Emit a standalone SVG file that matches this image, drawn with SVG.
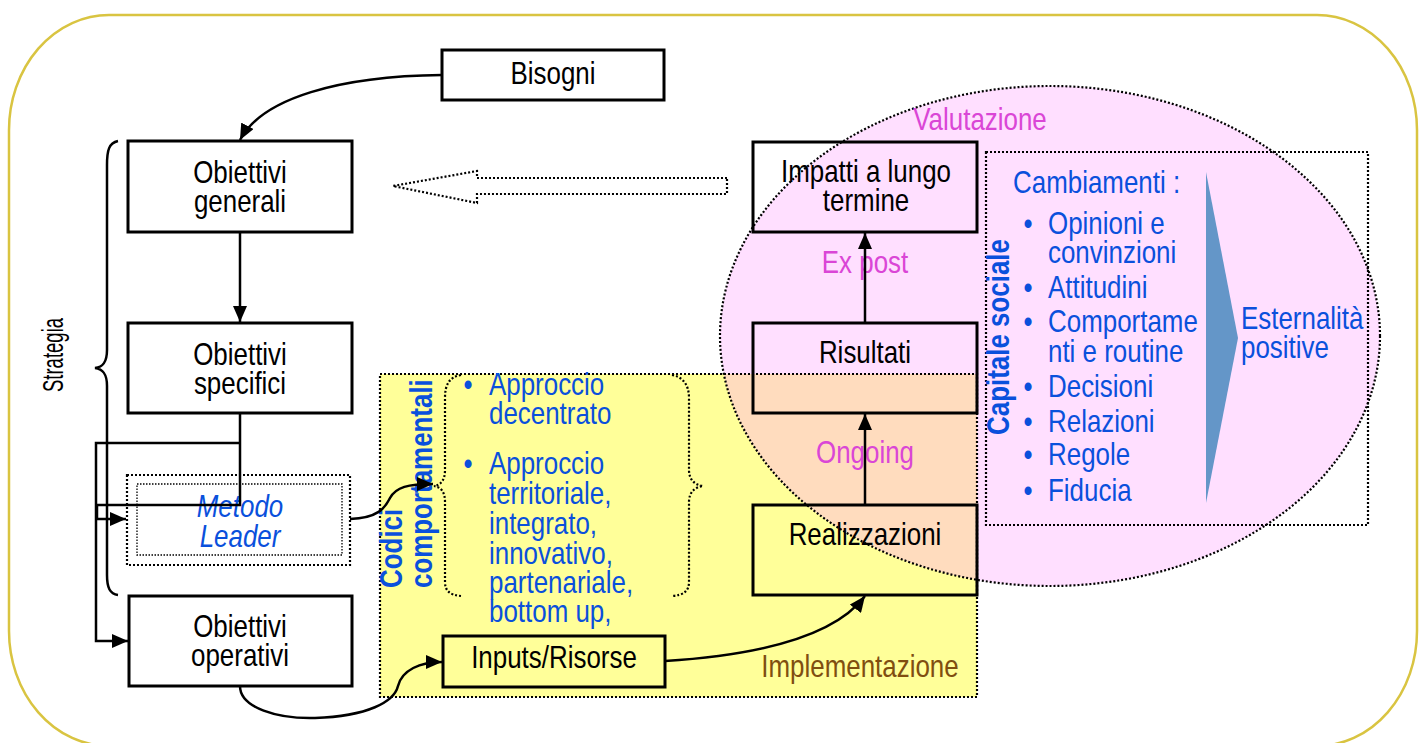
<svg xmlns="http://www.w3.org/2000/svg" width="1424" height="743" viewBox="0 0 1424 743">
<defs>
<style>
.t{font-family:"Liberation Sans",Arial,sans-serif;font-size:30.5px;fill:#000}
.m{text-anchor:middle}
.b{fill:#0A50DC}
.bb{fill:#0A50DC;font-weight:bold}
.mg{fill:#DA46D6}
.br{fill:#804E10}
.box{fill:none;stroke:#000;stroke-width:3}
.wbox{fill:#fff;stroke:#000;stroke-width:3}
.ln{fill:none;stroke:#000;stroke-width:2.5}
.dot{fill:none;stroke:#000;stroke-width:2.2;stroke-dasharray:2 2}
.dotf{fill:none;stroke:#000;stroke-width:1.3;stroke-dasharray:1.5 1.5}
</style>
<marker id="ah" viewBox="0 0 10 10" refX="10" refY="5" markerWidth="16" markerHeight="14" markerUnits="userSpaceOnUse" orient="auto" preserveAspectRatio="none"><path d="M0,0 L10,5 L0,10 z" fill="#000"/></marker>
<clipPath id="yclip"><rect x="380" y="374" width="597" height="323"/></clipPath>
</defs>

<rect x="9" y="15" width="1408" height="731" rx="100" ry="115" fill="none" stroke="#D9C441" stroke-width="2.5"/>

<g id="areas">
<rect x="380" y="374" width="597" height="323" fill="#FFFF99"/>
<ellipse cx="1050" cy="336" rx="330" ry="250" fill="#FFDFFF"/>
<ellipse cx="1050" cy="336" rx="330" ry="250" fill="#FFDCBE" clip-path="url(#yclip)"/>
<ellipse cx="1050" cy="336" rx="330" ry="250" class="dot"/>
<rect x="380" y="374" width="597" height="323" class="dot"/>
<rect x="986" y="152" width="382" height="373" class="dot"/>
<polygon points="1206,172 1238,338 1206,503" fill="#6496C8"/>
</g>

<g id="bisogni"><rect x="442" y="50" width="222" height="50" class="wbox"/><text class="t m" transform="translate(553,84) scale(0.85,1)">Bisogni</text></g>
<g id="obiettivi-generali"><rect x="128" y="141" width="224" height="91" class="wbox"/><text class="t m" transform="translate(240,183) scale(0.85,1)">Obiettivi</text><text class="t m" transform="translate(240,212) scale(0.85,1)">generali</text></g>
<g id="obiettivi-specifici"><rect x="128" y="323" width="224" height="90" class="wbox"/><text class="t m" transform="translate(240,365) scale(0.85,1)">Obiettivi</text><text class="t m" transform="translate(240,394) scale(0.85,1)">specifici</text></g>
<g id="metodo-leader"><rect x="127" y="475" width="223" height="90" class="dot"/><rect x="137" y="484" width="205" height="71" class="dotf"/><text class="t m b" font-style="italic" transform="translate(240,517) scale(0.85,1)">Metodo</text><text class="t m b" font-style="italic" transform="translate(240,547) scale(0.85,1)">Leader</text></g>
<g id="obiettivi-operativi"><rect x="129" y="596" width="223" height="90" class="wbox"/><text class="t m" transform="translate(240,637) scale(0.85,1)">Obiettivi</text><text class="t m" transform="translate(240,666) scale(0.85,1)">operativi</text></g>
<g id="strategia"><text class="t m" style="font-size:29px" transform="translate(63,355) rotate(-90) scale(0.64,1)">Strategia</text>
<path d="M118,141 C109,143 107,150 107,165 L107,350 C107,362 103,367 95,368 C103,369 107,374 107,386 L107,575 C107,588 110,594 118,595" class="ln"/></g>

<g id="codici">
<text class="t bb" transform="translate(402,588) rotate(-90) scale(0.85,1)">Codici</text>
<text class="t bb" transform="translate(432,588) rotate(-90) scale(0.85,1)">comportamentali</text>
<path d="M461,375 C449,377 445,385 445,398 L445,470 C445,480 441,485 434,486 C441,487 445,492 445,502 L445,582 C445,591 450,595 461,596" class="dot"/>
<path d="M672,375 C683,377 689,385 689,398 L689,470 C689,480 695,485 703,486 C695,487 689,492 689,502 L689,582 C689,591 684,595 672,596" class="dot"/>
<text class="t m b" transform="translate(468,395) scale(0.85,1)">•</text>
<text class="t b" transform="translate(489,395) scale(0.85,1)">Approccio</text>
<text class="t b" transform="translate(489,424) scale(0.85,1)">decentrato</text>
<text class="t m b" transform="translate(468,474) scale(0.85,1)">•</text>
<text class="t b" transform="translate(489,474) scale(0.85,1)">Approccio</text>
<text class="t b" transform="translate(489,504) scale(0.85,1)">territoriale,</text>
<text class="t b" transform="translate(489,534) scale(0.85,1)">integrato,</text>
<text class="t b" transform="translate(489,564) scale(0.85,1)">innovativo,</text>
<text class="t b" transform="translate(489,593) scale(0.85,1)">partenariale,</text>
<text class="t b" transform="translate(489,622) scale(0.85,1)">bottom up,</text>
</g>

<g id="inputs"><rect x="443" y="636" width="222" height="51" class="box"/><text class="t m" transform="translate(554,668) scale(0.85,1)">Inputs/Risorse</text></g>
<g id="realizzazioni"><rect x="753" y="505" width="224" height="90" class="box"/><text class="t m" transform="translate(865,545) scale(0.85,1)">Realizzazioni</text></g>
<g id="risultati"><rect x="753" y="323" width="224" height="90" class="box"/><text class="t m" transform="translate(865,363) scale(0.85,1)">Risultati</text></g>
<g id="impatti"><rect x="753" y="142" width="224" height="90" class="box"/><text class="t m" transform="translate(866,182) scale(0.85,1)">Impatti a lungo</text><text class="t m" transform="translate(866,211) scale(0.85,1)">termine</text></g>

<g id="labels">
<text class="t m mg" transform="translate(980,130) scale(0.85,1)">Valutazione</text>
<text class="t m mg" transform="translate(865,273) scale(0.85,1)">Ex post</text>
<text class="t m mg" transform="translate(865,463) scale(0.85,1)">Ongoing</text>
<text class="t m br" transform="translate(860,677) scale(0.85,1)">Implementazione</text>
</g>

<g id="capitale-sociale">
<text class="t bb" transform="translate(1009,435) rotate(-90) scale(0.85,1)">Capitale sociale</text>
<text class="t b" transform="translate(1013,193) scale(0.85,1)">Cambiamenti :</text>
<text class="t m b" transform="translate(1028,234) scale(0.85,1)">•</text>
<text class="t m b" transform="translate(1028,298) scale(0.85,1)">•</text>
<text class="t m b" transform="translate(1028,332) scale(0.85,1)">•</text>
<text class="t m b" transform="translate(1028,397) scale(0.85,1)">•</text>
<text class="t m b" transform="translate(1028,432) scale(0.85,1)">•</text>
<text class="t m b" transform="translate(1028,465) scale(0.85,1)">•</text>
<text class="t m b" transform="translate(1028,501) scale(0.85,1)">•</text>
<text class="t b" transform="translate(1048,234) scale(0.85,1)">Opinioni e</text>
<text class="t b" transform="translate(1048,263) scale(0.85,1)">convinzioni</text>
<text class="t b" transform="translate(1048,298) scale(0.85,1)">Attitudini</text>
<text class="t b" transform="translate(1048,332) scale(0.85,1)">Comportame</text>
<text class="t b" transform="translate(1048,362) scale(0.85,1)">nti e routine</text>
<text class="t b" transform="translate(1048,397) scale(0.85,1)">Decisioni</text>
<text class="t b" transform="translate(1048,432) scale(0.85,1)">Relazioni</text>
<text class="t b" transform="translate(1048,465) scale(0.85,1)">Regole</text>
<text class="t b" transform="translate(1048,501) scale(0.85,1)">Fiducia</text>
<text class="t b" transform="translate(1241,329) scale(0.85,1)">Esternalità</text>
<text class="t b" transform="translate(1241,358) scale(0.85,1)">positive</text>
</g>

<g id="connectors">
<path d="M442,75 C340,76 262,98 240,140" class="ln" marker-end="url(#ah)"/>
<path d="M240,232 L240,322" class="ln" marker-end="url(#ah)"/>
<path d="M240,413 L240,505 L97,505 L97,519 L126,519" class="ln" marker-end="url(#ah)"/>
<path d="M240,443 L96,443 L96,641 L128,641" class="ln" marker-end="url(#ah)"/>
<path d="M350,519 C378,518 385,508 390,498 C396,487 408,484 433,484" class="ln" marker-end="url(#ah)"/>
<path d="M240,686 C240,708 278,719 315,718 C368,716 394,702 398,686 C402,670 420,662 442,662" class="ln" marker-end="url(#ah)"/>
<path d="M665,661 C760,655 835,636 865,596" class="ln" marker-end="url(#ah)"/>
<path d="M865,505 L865,414" class="ln" marker-end="url(#ah)"/>
<path d="M865,323 L865,233" class="ln" marker-end="url(#ah)"/>
<polygon points="727,178 477,178 477,171 393,186 477,203 477,194 727,194" class="dot"/>
</g>
</svg>
